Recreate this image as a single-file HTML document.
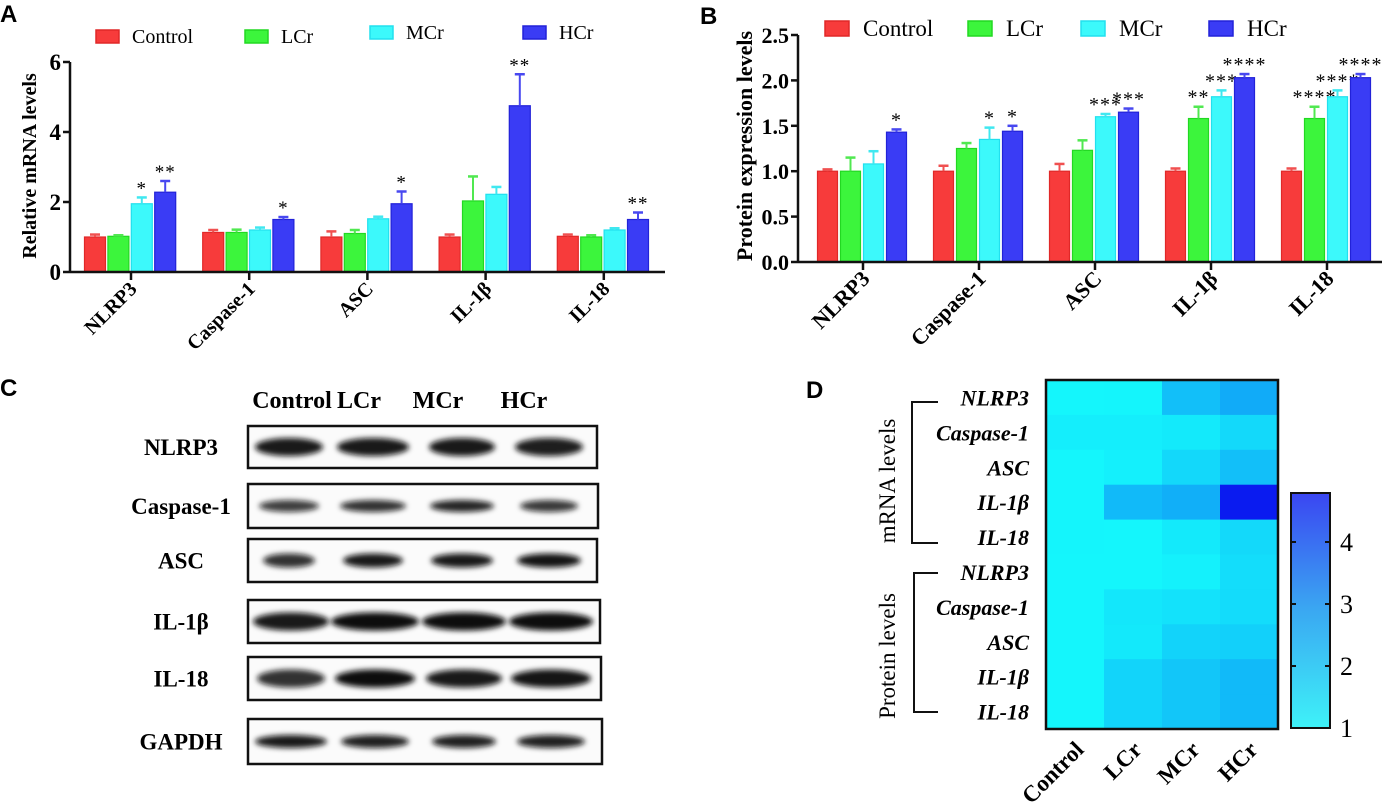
<!DOCTYPE html>
<html><head><meta charset="utf-8">
<style>
html,body{margin:0;padding:0;background:#fff;}
svg{display:block;font-family:"Liberation Serif",serif;}
.pl{font-family:"Liberation Sans",sans-serif;font-weight:bold;font-size:24px;}
</style></head>
<body>
<svg id="fig" width="1385" height="805" viewBox="0 0 1385 805" xmlns="http://www.w3.org/2000/svg">
<defs>
<filter id="blur" x="-30%" y="-100%" width="160%" height="300%"><feGaussianBlur stdDeviation="2.6"/></filter>
<linearGradient id="cbar" x1="0" y1="1" x2="0" y2="0">
<stop offset="0" stop-color="#3ef2f8"/><stop offset="0.5" stop-color="#3aa8f2"/><stop offset="1" stop-color="#3a46f2"/>
</linearGradient>
</defs>
<text class="pl" x="0" y="22">A</text>
<text class="pl" x="700" y="24">B</text>
<text class="pl" x="0" y="396">C</text>
<text class="pl" x="806" y="398">D</text>
<g id="gA"></g>
<g id="gB"></g>
<g id="gC"></g>
<g id="gD"></g>
</svg>
<script>
const categories = ["NLRP3","Caspase-1","ASC","IL-1\u03b2","IL-18"];
const groups = ["Control","LCr","MCr","HCr"];
const mrnaMean = [[1.0,1.02,1.95,2.28],[1.13,1.13,1.2,1.5],[1.0,1.1,1.52,1.95],[1.0,2.03,2.22,4.75],[1.02,1.0,1.2,1.5]];
const mrnaErr  = [[0.07,0.03,0.18,0.32],[0.07,0.08,0.07,0.07],[0.16,0.1,0.06,0.35],[0.07,0.7,0.21,0.9],[0.05,0.05,0.05,0.2]];
const mrnaStars = [["","","*","**"],["","","","*"],["","","","*"],["","","","**"],["","","","**"]];
const protMean = [[1.0,1.0,1.08,1.43],[1.0,1.25,1.35,1.44],[1.0,1.23,1.6,1.65],[1.0,1.58,1.82,2.03],[1.0,1.58,1.82,2.03]];
const protErr  = [[0.02,0.15,0.14,0.03],[0.06,0.06,0.13,0.06],[0.08,0.11,0.03,0.04],[0.03,0.13,0.07,0.04],[0.03,0.13,0.07,0.04]];
const protStars = [["","","","*"],["","","*","*"],["","","***","***"],["","**","***","****"],["","****","****","****"]];
const ticksA = [0,2,4,6];
const ticksB = [0,0.5,1,1.5,2,2.5];
const ticksBLabels = ["0.0","0.5","1.0","1.5","2.0","2.5"];
const cbTicks = [1,2,3,4];
const blotRows = ["NLRP3","Caspase-1","ASC","IL-1\u03b2","IL-18","GAPDH"];

const NS="http://www.w3.org/2000/svg";
const fill=["#f73b3b","#3cf53c","#3cf9fb","#3a3cf5"];
const edge=["#e02828","#22d822","#22e0ee","#2222d8"];
const errc=["#f05050","#50e850","#40e8f0","#4848f0"];
function mk(p,tag,at){const e=document.createElementNS(NS,tag);for(const k in at)e.setAttribute(k,at[k]);p.appendChild(e);return e;}
function txt(p,x,y,s,at){const e=mk(p,"text",Object.assign({x:x,y:y},at));e.textContent=s;return e;}

function barChart(g,cfg,mean,err,stars,ticks,tickLabels){
  const ys=v=>cfg.y0-(v-0)*cfg.pxPer;
  const xs=i=>cfg.xFirst+i*cfg.xStep;
  groups.forEach((n,i)=>{
    const r=mk(g,"rect",{x:cfg.legX[i],y:cfg.legY[i],width:cfg.legW,height:cfg.legH,fill:fill[i],stroke:edge[i],"stroke-width":1.5});
    
    
    const t=txt(g,cfg.legX[i]+cfg.legW+cfg.legGap,cfg.legY[i]+cfg.legH,n,{"font-size":cfg.legFont});
    
    
  });
  categories.forEach((c,ci)=>{
    groups.forEach((gn,gi)=>{
      const x=xs(ci)-cfg.groupHalf+gi*cfg.pitch;
      const v=mean[ci][gi],top=ys(v);
      const b=mk(g,"rect",{x:x,y:top,width:cfg.bw,height:cfg.y0-top,fill:fill[gi],stroke:edge[gi],"stroke-width":1.2});
      
      
      const et=ys(v+err[ci][gi]),cx=x+cfg.bw/2;
      mk(g,"line",{x1:cx,y1:top,x2:cx,y2:et,stroke:errc[gi],"stroke-width":2});
      mk(g,"line",{x1:cx-5,y1:et,x2:cx+5,y2:et,stroke:errc[gi],"stroke-width":2.5});
      if(stars[ci][gi]){
        const s=txt(g,cx,et+cfg.starDy,stars[ci][gi],{"font-size":cfg.starFont,"text-anchor":"middle","letter-spacing":"1"});
        
        
      }
    });
    const tx=xs(ci);
    mk(g,"line",{x1:tx,y1:cfg.y0,x2:tx,y2:cfg.y0+8,stroke:"#111","stroke-width":2.5});
    const lab=txt(g,0,0,c,{"font-size":cfg.xFont,"font-weight":"bold","text-anchor":"end",transform:`translate(${tx+cfg.xLabDx},${cfg.y0+cfg.xLabDy}) rotate(-45)`});
    
    
  });
  mk(g,"line",{x1:cfg.ax,y1:ys(ticks[ticks.length-1]),x2:cfg.ax,y2:cfg.y0+1,stroke:"#111","stroke-width":2.5});
  mk(g,"line",{x1:cfg.ax,y1:cfg.y0,x2:cfg.axEnd,y2:cfg.y0,stroke:"#111","stroke-width":2.5});
  ticks.forEach((t,i)=>{
    const y=ys(t);
    mk(g,"line",{x1:cfg.ax-7,y1:y,x2:cfg.ax,y2:y,stroke:"#111","stroke-width":2.5});
    const l=txt(g,cfg.ax-9,y+8,tickLabels?tickLabels[i]:String(t),{"font-size":cfg.tFont,"font-weight":"bold","text-anchor":"end"});
    
    
  });
  const yl=txt(g,0,0,cfg.yTitle,{"font-size":cfg.yFont,"font-weight":"bold","text-anchor":"middle",transform:`translate(${cfg.yTitleX},${cfg.yTitleY}) rotate(-90)`,"xml:space":"preserve"});
  
  
}

barChart(document.getElementById("gA"),{
  y0:272,pxPer:35,xFirst:131,xStep:118.2,groupHalf:46.5,pitch:23.4,bw:21,ax:70,axEnd:665,
  legX:[96,245,370,523],legY:[30,30,26,26],legW:23,legH:13,legGap:13,legFont:20,
  starDy:-3,starFont:19,xFont:20,xLabDx:7,xLabDy:18,tFont:23,yFont:20,
  yTitle:"Relative mRNA levels",yTitleX:36,yTitleY:166
},mrnaMean,mrnaErr,mrnaStars,ticksA,null);

barChart(document.getElementById("gB"),{
  y0:262,pxPer:90.8,xFirst:863,xStep:116,groupHalf:45.5,pitch:23,bw:20,ax:798,axEnd:1382,
  legX:[825,968,1081,1209],legY:[21,21,21,21],legW:24,legH:15,legGap:14,legFont:23,
  starDy:-3,starFont:20,xFont:22,xLabDx:8,xLabDy:18,tFont:22,yFont:22,
  yTitle:"Protein expression  levels",yTitleX:752,yTitleY:146
},protMean,protErr,protStars,ticksB,ticksBLabels);

(function(){
  const g=document.getElementById("gC");
  const laneX=[289,373,462,549];
  const hdrX=[292,359,438,524];
  groups.forEach((n,i)=>{
    const t=txt(g,hdrX[i],408,n,{"font-size":24,"font-weight":"bold","text-anchor":"middle"});
    
    
  });
  const boxes=[[426,468,597],[484,528,598],[539,582,597],[600,643,600],[657,700,601],[719,764,602]];
  const bandRy=[9,6,7,9,9,6.5];
  const bandRx=[[34,36,33,34],[30,33,32,29],[26,30,31,32],[38,44,42,42],[34,40,38,40],[36,34,32,34]];
  const bandDark=[[0.95,0.95,0.95,0.93],[0.8,0.85,0.9,0.82],[0.85,0.95,0.95,0.97],[0.95,1,1,1],[0.85,1,0.95,0.97],[0.95,0.92,0.92,0.92]];
  blotRows.forEach((r,ri)=>{
    const [t,b,right]=boxes[ri];
    const cy=(t+b)/2;
    const l=txt(g,181,cy+8,r,{"font-size":23,"font-weight":"bold","text-anchor":"middle"});
    
    
    mk(g,"rect",{x:248,y:t,width:right-248,height:b-t,fill:"#fbfbfb"});
    laneX.forEach((x,li)=>{
      const e=mk(g,"ellipse",{cx:x+(ri>=3?2:0),cy:cy,rx:bandRx[ri][li],ry:bandRy[ri],fill:"#0d0d0d","fill-opacity":bandDark[ri][li],filter:"url(#blur)"});
      
      
    });
    const bx=mk(g,"rect",{x:248,y:t,width:right-248,height:b-t,fill:"none",stroke:"#111","stroke-width":2.5});
    
    
  });
})();

(function(){
  const g=document.getElementById("gD");
  const rows=mrnaMean.concat(protMean);
  const rowLabels=categories.concat(categories);
  const x0=1046,y0=380,cw=58,rh=34.9;
  const vmin=1,vmax=4.8;
  function col(v){
    let t=Math.max(0,Math.min(1,(v-vmin)/(vmax-vmin)));
    const r=Math.round(20+(10-20)*t), gg=Math.round(246+(24-246)*t), b=Math.round(252+(240-252)*t);
    return `rgb(${r},${gg},${b})`;
  }
  rows.forEach((row,ri)=>{
    row.forEach((v,ci)=>{
      const c=mk(g,"rect",{x:x0+ci*cw,y:y0+ri*rh,width:cw+0.5,height:rh+0.5,fill:col(v)});
      
      
    });
    const lab=txt(g,1029,y0+ri*rh+rh/2+8,rowLabels[ri],{"font-size":22,"font-weight":"bold","font-style":"italic","text-anchor":"end"});
    
    
  });
  mk(g,"rect",{x:x0,y:y0,width:cw*4,height:rh*10,fill:"none",stroke:"#111","stroke-width":2.5});
  groups.forEach((n,i)=>{
    const t=txt(g,0,0,n,{"font-size":23,"font-weight":"bold","text-anchor":"end",transform:`translate(${x0+i*cw+cw/2+10},${y0+rh*10+22}) rotate(-45)`});
    
    
  });
  mk(g,"path",{d:"M938,402 H912 V543 H938",fill:"none",stroke:"#111","stroke-width":2});
  mk(g,"path",{d:"M938,573 H914 V712 H938",fill:"none",stroke:"#111","stroke-width":2});
  const m=txt(g,0,0,"mRNA levels",{"font-size":23,"text-anchor":"middle",transform:"translate(895,481) rotate(-90)"});
  
  
  const p=txt(g,0,0,"Protein levels",{"font-size":23,"text-anchor":"middle",transform:"translate(895,656) rotate(-90)"});
  
  
  const cbx=1291,cbw=39,cbBot=728,cbPer=62,cbTop=493;
  const cb=mk(g,"rect",{x:cbx,y:cbTop,width:cbw,height:cbBot-cbTop,fill:"url(#cbar)",stroke:"#111","stroke-width":2});
  
  
  cbTicks.forEach(t=>{
    const y=cbBot-(t-1)*cbPer;
    if(t>1){
      mk(g,"line",{x1:cbx,y1:y,x2:cbx+5,y2:y,stroke:"#111","stroke-width":2});
      mk(g,"line",{x1:cbx+cbw-5,y1:y,x2:cbx+cbw,y2:y,stroke:"#111","stroke-width":2});
    }
    const l=txt(g,1340,y+9,String(t),{"font-size":26});
    
    
  });
})();
</script>
</body></html>
